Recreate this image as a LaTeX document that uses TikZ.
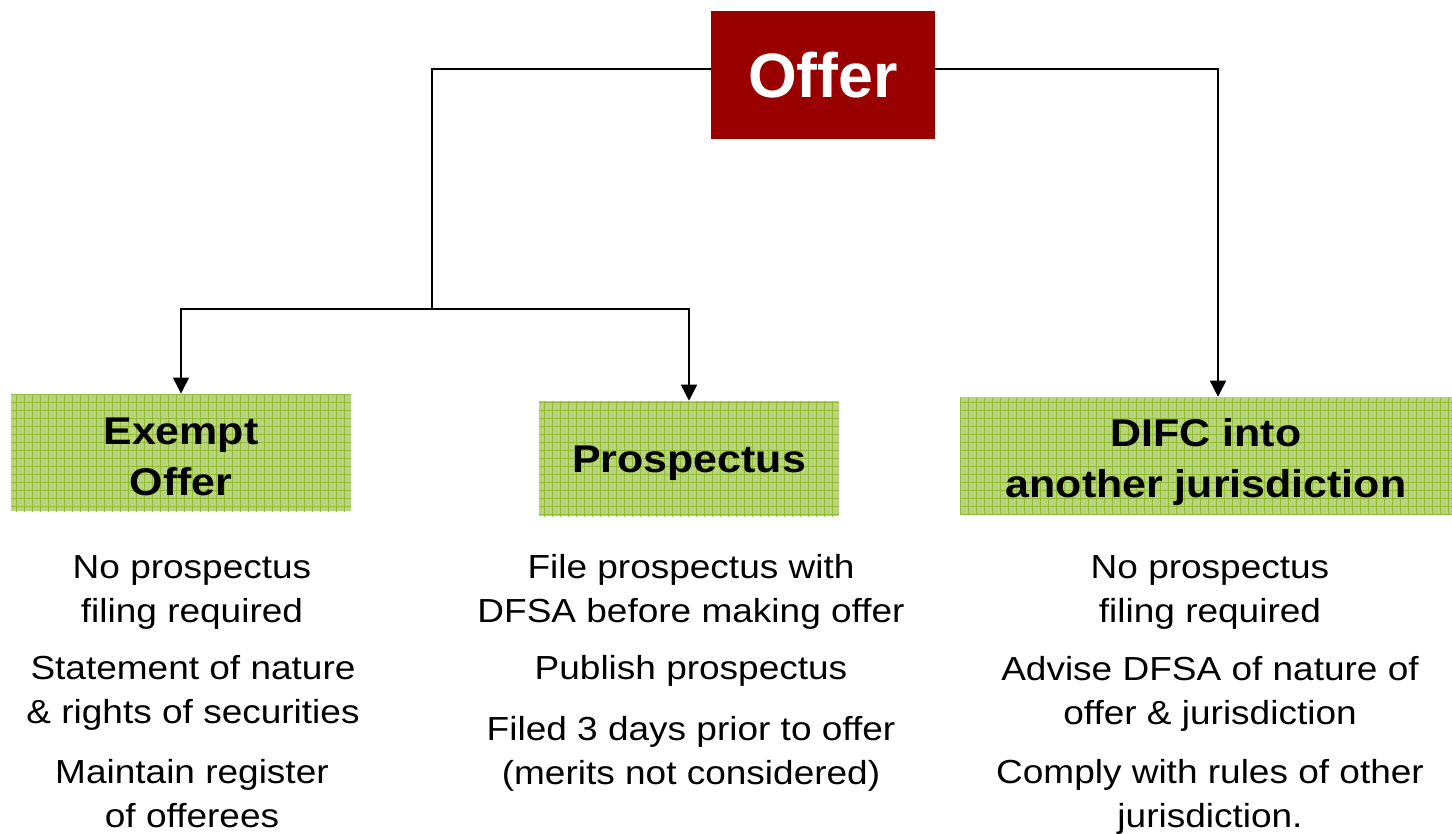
\documentclass[tikz,border=0pt]{standalone}
\usepackage{fontspec}
\setmainfont{Liberation Sans}
\newfontfamily\widesans[FakeStretch=1.11]{Liberation Sans}
\usepackage{xcolor}
\usetikzlibrary{arrows.meta, patterns.meta}

\definecolor{offerred}{RGB}{153,0,0}
\definecolor{boxgreen}{RGB}{184,212,126}
\definecolor{gridgreen}{RGB}{145,186,55}

\tikzset{
  headbox/.style={preaction={fill=boxgreen}, pattern={Hatch[distance=6pt, angle=0, line width=0.7pt]}, pattern color=gridgreen, inner sep=0pt},
  headtext/.style={align=center, inner sep=0pt, font=\widesans\fontsize{29}{38.25}\selectfont\bfseries},
  itemtext/.style={align=center, inner sep=0pt, font=\widesans\fontsize{25}{33}\selectfont},
  conn/.style={line width=1.1pt, black},
  tip/.style={-{Triangle[length=12pt, width=12pt]}}
}

\begin{document}
\begin{tikzpicture}[x=0.75pt,y=0.75pt,yscale=-1,xscale=1]
    \useasboundingbox (0,0) rectangle (1452,834);

    %Shape: Rectangle [offer]
    \node [fill=offerred, text=white, minimum width=168pt, minimum height=96pt, inner sep=0pt, font=\fontsize{47}{55}\selectfont\bfseries] (offer) at (823,75) {Offer};

    %Shape: Rectangle [green boxes]
    \node [headbox, minimum width=255pt, minimum height=87.75pt] (exempt) at (181,452.5) {};
    \node [headbox, minimum width=225pt, minimum height=86.25pt] (prosp) at (689,458.5) {};
    \node [headbox, minimum width=369pt, minimum height=87.75pt] (difc) at (1206,455.5) {};
    % Text Node
    \node [headtext] (exemptlbl) at ([yshift=3.5pt]exempt.center) {Exempt\\Offer};
    \node [headtext] (prosplbl) at ([yshift=3.5pt]prosp.center) {Prospectus};
    \node [headtext] (difclbl) at ([yshift=5pt]difc.center) {DIFC into\\another jurisdiction};

    % Connectors
    \coordinate (lcorner) at (432,69);
    \coordinate (split) at (432,309);
    \coordinate (rcorner) at (1218,69);
    \draw [conn] (lcorner -| offer.west) -- (lcorner) -- (split);
    \draw [conn, tip] (split) -| (exempt.north);
    \draw [conn, tip] (split) -| (prosp.north);
    \draw [conn, tip] (rcorner -| offer.east) -- (rcorner) -- (rcorner |- difc.north);

    % Text Node
    \node [itemtext] (ex1) at (192,592) {No prospectus\\filing required};
    \node [itemtext] (ex2) at (193,693) {Statement of nature\\\& rights of securities};
    \node [itemtext] (ex3) at (192,794) {Maintain register\\of offerees};
    % Text Node
    \node [itemtext] (pr1) at (691,592) {File prospectus with\\DFSA before making offer};
    \node [itemtext] (pr2) at (691,671) {Publish prospectus};
    \node [itemtext] (pr3) at (691,754) {Filed 3 days prior to offer\\(merits not considered)};
    % Text Node
    \node [itemtext] (di1) at (1210,592) {No prospectus\\filing required};
    \node [itemtext] (di2) at (1210,694) {Advise DFSA of nature of\\offer \& jurisdiction};
    \node [itemtext] (di3) at (1210,797) {Comply with rules of other\\jurisdiction.};

\end{tikzpicture}
\end{document}
